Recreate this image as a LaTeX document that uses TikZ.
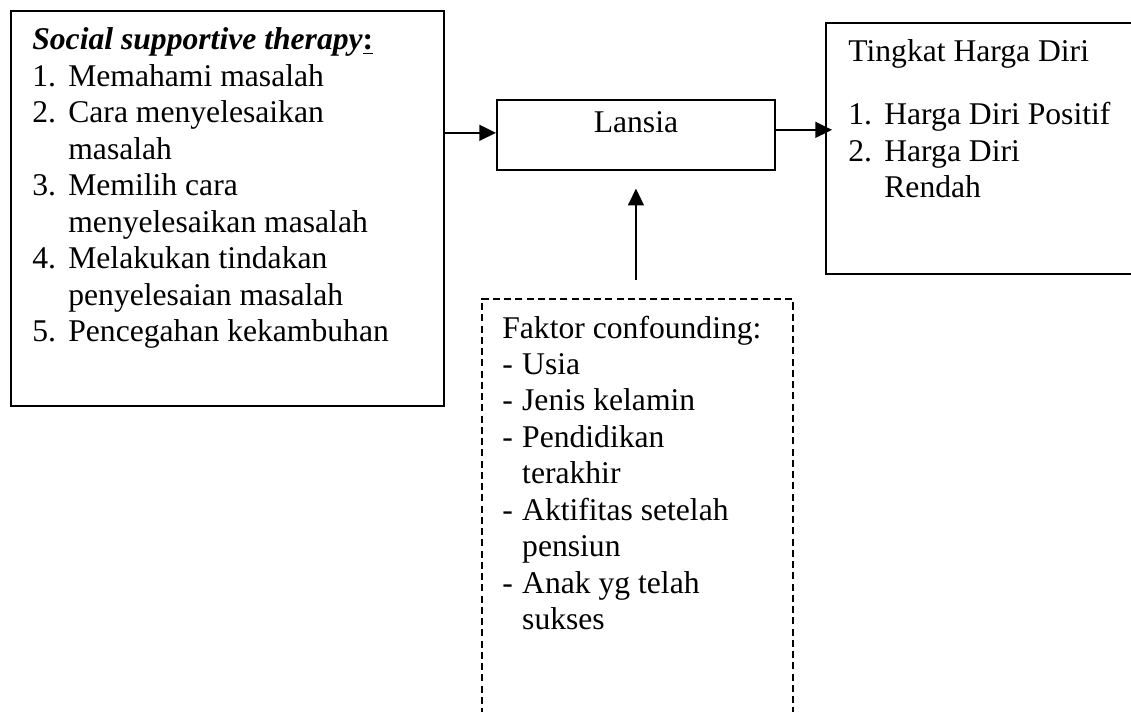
\documentclass[tikz,border=0pt]{standalone}
\usepackage{fontspec}
\setmainfont{Liberation Serif}
\usetikzlibrary{arrows.meta}

\begin{document}
\begin{tikzpicture}[x=0.02cm, y=-0.02cm]
	\tikzset{
		mybox/.style={rectangle, draw=black, line width=1.1pt, inner sep=0pt, anchor=north west},
		mydash/.style={mybox, line width=0.9pt, dash pattern=on 4pt off 2.4pt},
		mytext/.style={inner sep=0pt, anchor=base west, font=\fontsize{18}{20.75}\selectfont},
		myarrow/.style={-{Triangle[length=9.5pt, width=9pt]}, line width=1.2pt}
	}
	\path[use as bounding box, clip] (0,0) rectangle (1131,712);

	% boxes
	\node[mybox, minimum width=8.66cm, minimum height=7.9cm] (therapy) at (10,10) {};
	\node[mybox, minimum width=5.56cm, text height=18.7pt, text depth=21pt, font=\fontsize{18}{20.75}\selectfont] (lansia) at (496,99) {Lansia};
	\node[mybox, minimum width=6.8cm, minimum height=5.02cm] (harga) at (825,22) {};
	\node[mydash, minimum width=6.22cm, minimum height=8.84cm] (confounding) at (481,298) {};

	% texts
	\node[mytext] (therapytext) at (32,50) {\begin{tabular}[t]{@{}p{20.5pt}@{}l@{}}
		\multicolumn{2}{@{}l@{}}{\textbf{\textit{Social supportive therapy}\underline{:}}}\\
		1. & Memahami masalah\\
		2. & Cara menyelesaikan\\
		   & masalah\\
		3. & Memilih cara\\
		   & menyelesaikan masalah\\
		4. & Melakukan tindakan\\
		   & penyelesaian masalah\\
		5. & Pencegahan kekambuhan
	\end{tabular}};

	\node[mytext] (hargatext) at (848,62) {\begin{tabular}[t]{@{}p{20.5pt}@{}l@{}}
		\multicolumn{2}{@{}l@{}}{Tingkat Harga Diri}\\[15pt]
		1. & Harga Diri Positif\\
		2. & Harga Diri\\
		   & Rendah
	\end{tabular}};

	\node[mytext] (confoundingtext) at (502,338) {\begin{tabular}[t]{@{}p{11.3pt}@{}l@{}}
		\multicolumn{2}{@{}l@{}}{Faktor confounding:}\\
		- & Usia\\
		- & Jenis kelamin\\
		- & Pendidikan\\
		  & terakhir\\
		- & Aktifitas setelah\\
		  & pensiun\\
		- & Anak yg telah\\
		  & sukses
	\end{tabular}};

	% arrows
	\draw[myarrow] ([yshift=0.04cm]therapy.east |- lansia.west) -- ([yshift=0.04cm]lansia.west);
	\draw[myarrow, shorten >=-4pt] ([yshift=0.1cm]lansia.east) -- ([yshift=0.1cm]lansia.east -| harga.west);
	\draw[myarrow, shorten <=0.36cm, shorten >=0.36cm] (confounding.north -| lansia.south) -- (lansia.south);
\end{tikzpicture}
\end{document}
